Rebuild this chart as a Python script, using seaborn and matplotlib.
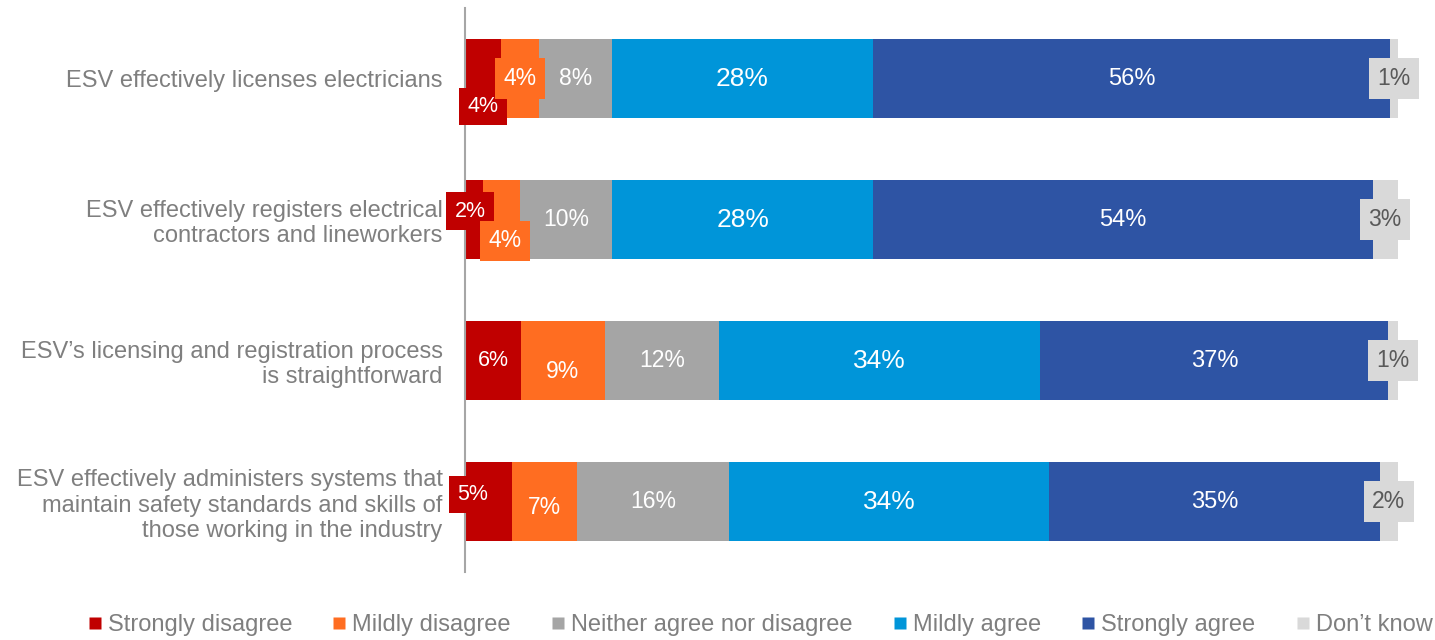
import numpy as np
import pandas as pd
import matplotlib
matplotlib.use("Agg")
import matplotlib.pyplot as plt
import seaborn as sns
from matplotlib.lines import Line2D

plt.rcParams['font.family'] = ['Liberation Sans', 'DejaVu Sans']

# survey statements (y axis)
questions = [
    "ESV effectively licenses electricians",
    "ESV effectively registers electrical\ncontractors and lineworkers",
    "ESV\u2019s licensing and registration process\nis straightforward",
    "ESV effectively administers systems that\nmaintain safety standards and skills of\nthose working in the industry",
]

responses = ["Strongly disagree", "Mildly disagree", "Neither agree nor disagree",
             "Mildly agree", "Strongly agree", "Don\u2019t know"]

# shares per response, one list per response
strongly_disagree = [3.9, 1.9, 6.0, 5.0]
mildly_disagree = [4.0, 4.0, 9.0, 7.0]
neither = [7.9, 9.9, 12.2, 16.3]
mildly_agree = [27.9, 28.0, 34.5, 34.3]
strongly_agree = [55.5, 53.5, 37.3, 35.5]
dont_know = [0.8, 2.7, 1.0, 1.9]

# printed labels
labels = [
    ["4%", "4%", "8%", "28%", "56%", "1%"],
    ["2%", "4%", "10%", "28%", "54%", "3%"],
    ["6%", "9%", "12%", "34%", "37%", "1%"],
    ["5%", "7%", "16%", "34%", "35%", "2%"],
]

colors = ["#C00000", "#FF6D21", "#A5A5A5", "#0095D9", "#2E54A4", "#D9D9D9"]
label_sizes = [15.5, 16.5, 16.5, 19, 17, 16.5]

values = np.array([strongly_disagree, mildly_disagree, neither,
                   mildly_agree, strongly_agree, dont_know]).T
cum = values.cumsum(axis=1)

fig = plt.figure(figsize=(14.35, 6.4), dpi=100)
ax = fig.add_axes([0.324, 0.106, 0.650, 0.8815])

# stacked bars: draw the running totals from longest to shortest
for i in reversed(range(len(responses))):
    df = pd.DataFrame({"question": questions, "value": cum[:, i]})
    sns.barplot(data=df, x="value", y="question", orient="h", color=colors[i],
                saturation=1, width=0.56, linewidth=0, ax=ax)

# label nudges (dx in %, dy in rows) and which labels get a box
nudge = {(0, 0): (0, 0.2), (1, 0): (-0.4, -0.06), (1, 1): (0.4, 0.15),
         (2, 1): (0, 0.08), (3, 0): (-1.7, -0.05), (3, 1): (0, 0.04)}
boxed = {(0, 0), (0, 1), (1, 0), (1, 1), (3, 0)}

for r in range(len(questions)):
    for c in range(len(responses)):
        start = cum[r, c] - values[r, c]
        dx, dy = nudge.get((r, c), (0, 0))
        x = start + values[r, c] / 2 + dx
        y = r + dy
        txt_color = "#595959" if c == 5 else "white"
        bbox = None
        if (r, c) in boxed or c == 5:
            bbox = dict(boxstyle="square,pad=0.38", fc=colors[c], ec="none")
        ax.text(x, y, labels[r][c], ha="center", va="center",
                fontsize=label_sizes[c], color=txt_color, bbox=bbox)

ax.set_xlim(0, 100)
ax.set_ylim(3.5, -0.5)
ax.set_xlabel("")
ax.set_ylabel("")
ax.set_xticks([])
ax.set_yticks(range(len(questions)))
ax.set_yticklabels(questions, fontsize=17, color="#7F7F7F",
                   family=['Liberation Sans', 'DejaVu Sans'])
ax.tick_params(axis="y", length=0, pad=16)
for s in ["top", "right", "bottom"]:
    ax.spines[s].set_visible(False)
ax.spines["left"].set_color("#A6A6A6")
ax.spines["left"].set_linewidth(1.5)

handles = [Line2D([0], [0], marker="s", linestyle="none", markersize=8.5,
                  markerfacecolor=col, markeredgecolor="none") for col in colors]
fig.legend(handles, responses, loc="center", bbox_to_anchor=(0.53, 0.023),
           ncol=6, frameon=False, fontsize=17, labelcolor="#7F7F7F",
           handlelength=0.5, handletextpad=0.3, columnspacing=1.75)

fig.savefig("out.png", dpi=100)
